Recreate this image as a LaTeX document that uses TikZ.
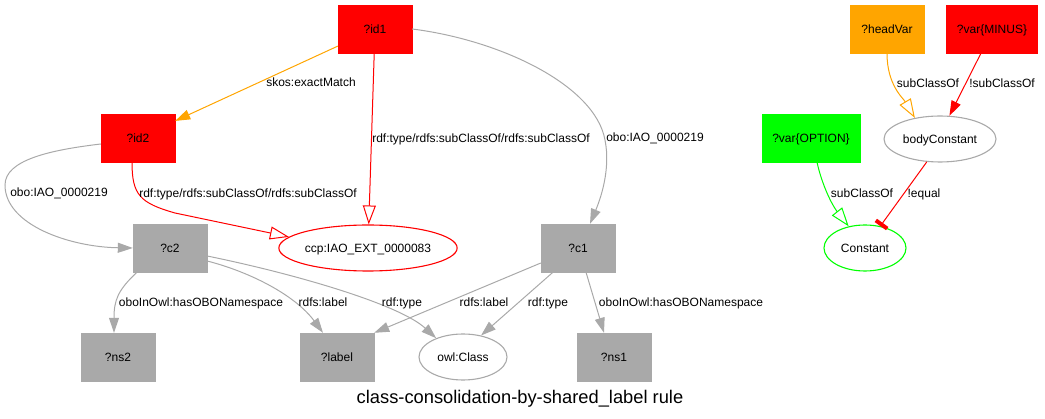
\documentclass[tikz,border=0pt]{standalone}
\usepackage{fontspec}
\setmainfont{Liberation Sans}
\usetikzlibrary{arrows.meta, shapes.geometric}
\definecolor{gvgray}{HTML}{A9A9A9}
\definecolor{gvorange}{HTML}{FFA500}
\definecolor{gvgreen}{HTML}{00FF00}
\tikzset{
  var box/.style={
    rectangle,
    draw=#1,
    fill=#1,
    minimum width=74pt,
    minimum height=48pt,
    inner xsep=10.5pt,
    text height=8.6pt,
    text depth=0pt,
    font=\fontsize{12}{14}\selectfont
  },
  term ellipse/.style={
    ellipse,
    draw=#1,
    line width=1.1pt,
    inner sep=0pt,
    minimum height=46pt,
    text height=8.6pt,
    text depth=0pt,
    font=\fontsize{12}{14}\selectfont
  },
  link/.style={
    draw=#1,
    line width=1pt,
    -{Triangle[length=15pt, width=10pt]}
  },
  sub link/.style={
    draw=#1,
    line width=1pt,
    -{Triangle[open, length=19pt, width=13pt]}
  },
  neg link/.style={
    draw=#1,
    line width=1pt,
    -{Bar[width=14pt, line width=4pt]}
  },
  edge label/.style={
    inner sep=0pt,
    text height=8.6pt,
    text depth=0pt,
    font=\fontsize{12}{14}\selectfont
  }
}

\begin{document}
\begin{tikzpicture}[x=1pt, y=-1pt]
    \useasboundingbox (0,0) rectangle (1045,419);

    % rule nodes
    \node[var box=red] (id1) at (375,29) {?id1};
    \node[var box=red] (id2) at (138,138) {?id2};
    \node[var box=gvgray] (c2) at (170,248) {?c2};
    \node[var box=gvgray] (c1) at (578,248) {?c1};
    \node[var box=gvgray] (ns2) at (118,357) {?ns2};
    \node[var box=gvgray] (label) at (337,357) {?label};
    \node[var box=gvgray] (ns1) at (614,357) {?ns1};
    \node[term ellipse=red, minimum width=171pt] (iao) at (368,248) {ccp:IAO\_EXT\_0000083};
    \node[term ellipse=gvgray, minimum width=88pt] (owl) at (463,357) {owl:Class};

    % legend nodes
    \node[var box=gvorange] (head) at (887,29) {?headVar};
    \node[var box=red] (minus) at (992,29) {?var\{MINUS\}};
    \node[var box=gvgreen] (option) at (811,138) {?var\{OPTION\}};
    \node[term ellipse=gvgray, minimum width=112pt] (body) at (940,139) {bodyConstant};
    \node[term ellipse=gvgreen, minimum width=82pt] (const) at (865,248) {Constant};

    % rule edges
    \draw[link=gvorange] (id1) -- (id2);
    \node[edge label] (lskos) at (311,82) {skos:exactMatch};

    \draw[sub link=red] (id1) -- (iao);
    \node[edge label] (ltype1) at (481,138) {rdf:type/rdfs:subClassOf/rdfs:subClassOf};

    \draw[link=gvgray] (id1.east) .. controls (500,40) and (595,85) .. (605,140)
      .. controls (611,170) and (600,200) .. ([xshift=12pt]c1.north);
    \node[edge label] (lobo1) at (655,137) {obo:IAO\_0000219};

    \draw[sub link=red] ([xshift=-6pt]id2.south) .. controls (132,195) and (140,203) .. (175,213) -- (iao.172);
    \node[edge label] (ltype2) at (248,193) {rdf:type/rdfs:subClassOf/rdfs:subClassOf};

    \draw[link=gvgray] ([yshift=-6pt]id2.west) .. controls (50,150) and (5,160) .. (5,185)
      .. controls (5,225) and (70,247) .. (c2.west);
    \node[edge label] (lobo2) at (59,192) {obo:IAO\_0000219};

    \draw[link=gvgray] ([xshift=-33pt]c2.south) .. controls (118,290) and (114,300) .. ([xshift=-4pt]ns2.north);
    \node[edge label] (lns2) at (201,302) {oboInOwl:hasOBONamespace};

    \draw[link=gvgray] ([yshift=-13pt]c2.east) .. controls (250,272) and (295,295) .. ([xshift=-14pt]label.north);
    \node[edge label] (llabel2) at (323,302) {rdfs:label};

    \draw[link=gvgray] ([yshift=-8pt]c2.east) .. controls (300,275) and (400,305) .. (owl.145);
    \node[edge label] (lclass2) at (402,302) {rdf:type};

    \draw[link=gvgray] ([yshift=-15pt]c1.west) -- (label.north east);
    \node[edge label] (llabel1) at (484,302) {rdfs:label};

    \draw[link=gvgray] ([xshift=-25pt]c1.south) -- (owl.50);
    \node[edge label] (lclass1) at (548,302) {rdf:type};

    \draw[link=gvgray] ([xshift=8pt]c1.south) -- ([xshift=-10pt]ns1.north);
    \node[edge label] (lns1) at (681,302) {oboInOwl:hasOBONamespace};

    % legend edges
    \draw[sub link=gvorange] (head.south) .. controls (887,85) and (903,98) .. (body.140);
    \node[edge label] (lsubhead) at (928,83) {subClassOf};

    \draw[link=red] ([xshift=-11pt]minus.south) -- (body.68);
    \node[edge label] (lnotsub) at (1002,83) {!subClassOf};

    \draw[sub link=gvgreen] ([xshift=6pt]option.south) .. controls (822,185) and (832,205) .. (const.127);
    \node[edge label] (lsubopt) at (862,193) {subClassOf};

    \draw[neg link=red] (body.240) -- (const.55);
    \node[edge label] (lequal) at (924,193) {!equal};

    % title
    \node[inner sep=0pt, text height=13pt, text depth=0pt, font=\fontsize{18.3}{22}\selectfont] (title) at (520,397)
      {class-consolidation-by-shared\_label rule};
\end{tikzpicture}
\end{document}
